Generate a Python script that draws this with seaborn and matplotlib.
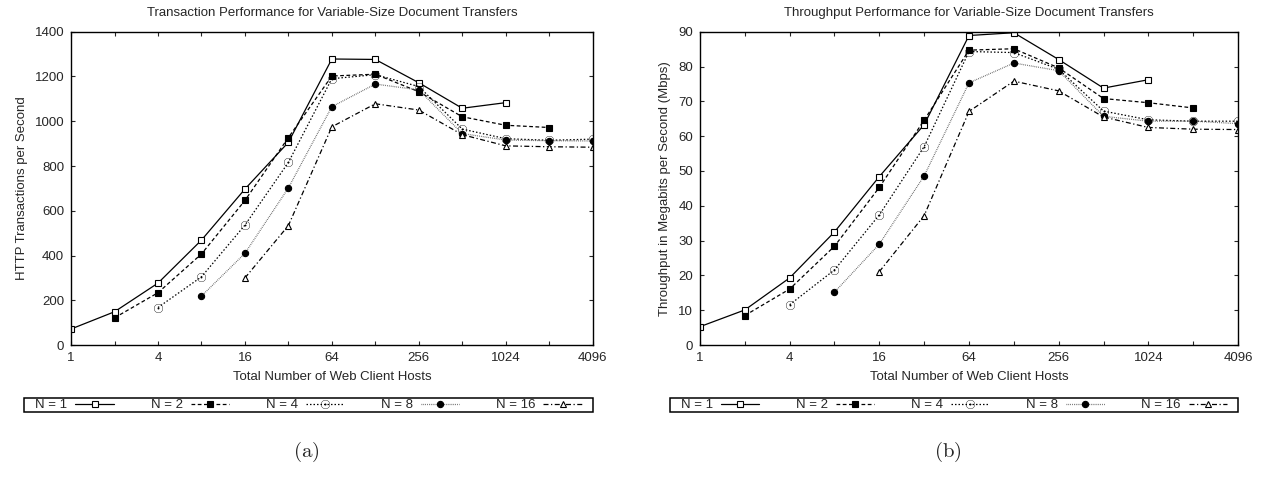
import matplotlib
matplotlib.use("Agg")
import matplotlib.pyplot as plt
from matplotlib.patches import Rectangle
import pandas as pd
import numpy as np
import seaborn as sns

# number of web client hosts (log2 axis)
hosts = [1, 2, 4, 8, 16, 32, 64, 128, 256, 512, 1024, 2048, 4096]
tick_hosts = [1, 4, 16, 64, 256, 1024, 4096]

# (a) HTTP transactions per second, one list per N (None = no point)
tps_n1 = [72, 149, 277, 469, 697, 906, 1278, 1276, 1172, 1058, 1083, None, None]
tps_n2 = [None, 122, 234, 407, 646, 927, 1202, 1210, 1132, 1020, 982, 972, None]
tps_n4 = [None, None, 168, 305, 536, 816, 1190, 1208, 1155, 965, 922, 915, 920]
tps_n8 = [None, None, None, 219, 410, 702, 1065, 1166, 1140, 945, 916, 913, 912]
tps_n16 = [None, None, None, None, 300, 534, 975, 1078, 1050, 940, 890, 886, 884]

# (b) throughput in Mbps
mbps_n1 = [5.3, 10.1, 19.3, 32.5, 48.4, 63.3, 88.9, 89.7, 82.0, 73.8, 76.2, None, None]
mbps_n2 = [None, 8.5, 16.1, 28.4, 45.3, 64.6, 84.7, 85.1, 79.6, 70.8, 69.6, 68.1, None]
mbps_n4 = [None, None, 11.6, 21.6, 37.4, 57.0, 84.3, 84.0, 79.2, 67.2, 64.7, 64.3, 64.3]
mbps_n8 = [None, None, None, 15.2, 29.0, 48.6, 75.3, 81.0, 78.8, 65.7, 64.3, 64.3, 63.6]
mbps_n16 = [None, None, None, None, 21.1, 37.2, 67.1, 75.8, 73.0, 65.5, 62.5, 62.0, 61.9]

labels = ["N = 1", "N = 2", "N = 4", "N = 8", "N = 16"]
styles = {
    "N = 1": dict(marker="s", ms=4.5, mfc="white", mew=0.8, color="black", dashes=None),
    "N = 2": dict(marker="s", ms=4.5, mfc="black", mew=0.8, color="black", dashes=(3, 2)),
    "N = 4": dict(marker=r"$\odot$", ms=6.5, mfc="black", mew=0.0, color="black",
                  dashes=(1.2, 1.6)),
    "N = 8": dict(marker="o", ms=4.5, mfc="black", mew=0.8, color="#555555",
                  dashes=(0.6, 0.9)),
    "N = 16": dict(marker="^", ms=4.5, mfc="white", mew=0.8, color="black",
                   dashes=(4, 2, 1, 2)),
}
FS = 9.5


def long_df(series):
    rows = []
    for lab, vals in zip(labels, series):
        for h, v in zip(hosts, vals):
            if v is not None:
                rows.append({"hosts": h, "value": v, "N": lab})
    return pd.DataFrame(rows)


df_a = long_df([tps_n1, tps_n2, tps_n4, tps_n8, tps_n16])
df_b = long_df([mbps_n1, mbps_n2, mbps_n4, mbps_n8, mbps_n16])

sns.set_style("ticks")
plt.rcParams["font.family"] = ["Liberation Sans", "DejaVu Sans"]
plt.rcParams["mathtext.fontset"] = "cm"

fig = plt.figure(figsize=(12.69, 4.8), dpi=100)
ax_a = fig.add_axes([0.056, 0.281, 0.411, 0.653])
ax_b = fig.add_axes([0.5516, 0.281, 0.424, 0.653])


def draw(ax, df, title, ylabel, ymax, ystep, box_px, caption_x, caption):
    for lab in labels:
        st = styles[lab]
        sub = df[df["N"] == lab]
        sns.lineplot(data=sub, x="hosts", y="value", ax=ax, color=st["color"],
                     marker=st["marker"], markersize=st["ms"], markerfacecolor=st["mfc"],
                     markeredgecolor="black", markeredgewidth=st["mew"], linewidth=0.9,
                     label=lab, legend=False)
        if st["dashes"] is not None:
            ax.lines[-1].set_dashes(st["dashes"])
    ax.set_xscale("log", base=2)
    ax.set_xlim(1, 4096)
    ax.set_ylim(0, ymax)
    ax.set_xticks(tick_hosts)
    ax.set_xticklabels([str(t) for t in tick_hosts])
    ax.set_xticks([h for h in hosts if h not in tick_hosts], minor=True)
    ax.set_yticks(np.arange(0, ymax + 1, ystep))
    ax.tick_params(which="both", direction="in", top=True, right=True,
                   length=3, width=0.8, labelsize=FS, pad=5)
    ax.tick_params(which="minor", labelbottom=False)
    for s in ax.spines.values():
        s.set_linewidth(1.0)
        s.set_color("black")
    ax.set_title(title, fontsize=FS, pad=11)
    ax.set_ylabel(ylabel, fontsize=FS, labelpad=5)
    ax.set_xlabel("Total Number of Web Client Hosts", fontsize=FS, labelpad=5)

    # legend box below the axes, gnuplot style: label then sample
    x0, x1, y0, y1 = box_px
    W, H = 1269.0, 480.0
    fig.patches.append(Rectangle((x0 / W, 1 - y1 / H), (x1 - x0) / W, (y1 - y0) / H,
                                 transform=fig.transFigure, fill=False,
                                 edgecolor="black", linewidth=1.1))
    handles = ax.lines[:len(labels)]
    fig.legend(handles, labels, loc="center",
               bbox_to_anchor=((x0 + x1) / 2 / W, 1 - (y0 + y1) / 2 / H),
               ncol=5, markerfirst=False, frameon=False, fontsize=FS,
               handlelength=2.9, handletextpad=0.6, borderpad=0.0,
               borderaxespad=0, columnspacing=2.8)
    fig.text(caption_x, 0.058, caption, ha="center", va="center", fontsize=15)


draw(ax_a, df_a, "Transaction Performance for Variable-Size Document Transfers",
     "HTTP Transactions per Second", 1400, 200, (24, 593, 398, 412), 0.241, r"$\mathrm{(a)}$")
draw(ax_b, df_b, "Throughput Performance for Variable-Size Document Transfers",
     "Throughput in Megabits per Second (Mbps)", 90, 10, (670, 1238, 398, 412), 0.747,
     r"$\mathrm{(b)}$")

fig.savefig("out.png", dpi=100, facecolor="white")
